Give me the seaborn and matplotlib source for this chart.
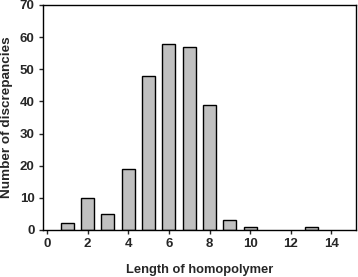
import matplotlib
matplotlib.use("Agg")
import matplotlib.pyplot as plt
import seaborn as sns
import pandas as pd

lengths = [1, 2, 3, 4, 5, 6, 7, 8, 9, 10, 13]
counts = [2, 10, 5, 19, 48, 58, 57, 39, 3, 1, 1]
xticks = [0, 2, 4, 6, 8, 10, 12, 14]
yticks = [0, 10, 20, 30, 40, 50, 60, 70]

sns.set_style("ticks")
plt.rcParams['font.family'] = ['Liberation Sans', 'DejaVu Sans']
plt.rcParams['font.weight'] = 'bold'

df = pd.DataFrame({"length": lengths, "count": counts})

fig = plt.figure(figsize=(3.58, 2.77), dpi=100)
ax = fig.add_axes([0.120, 0.170, 0.874, 0.812])
sns.barplot(data=df, x="length", y="count", native_scale=True, width=0.64,
            color="#c0c0c0", edgecolor="black", linewidth=1.0, saturation=1, ax=ax)
ax.set_xlim(-0.2, 15.2)
ax.set_ylim(0, 70)
ax.set_xticks(xticks)
ax.set_yticks(yticks)
ax.tick_params(labelsize=9.5, length=3, width=1, direction="out", pad=3)
for lab in ax.get_xticklabels() + ax.get_yticklabels():
    lab.set_fontweight('bold')
for s in ax.spines.values():
    s.set_visible(True)
    s.set_linewidth(1.0)
    s.set_color("black")
ax.set_xlabel("Length of homopolymer", fontsize=9.3, fontweight='bold', labelpad=10)
ax.set_ylabel("Number of discrepancies", fontsize=9.7, fontweight='bold', labelpad=5)
fig.savefig("out.png", dpi=100)
